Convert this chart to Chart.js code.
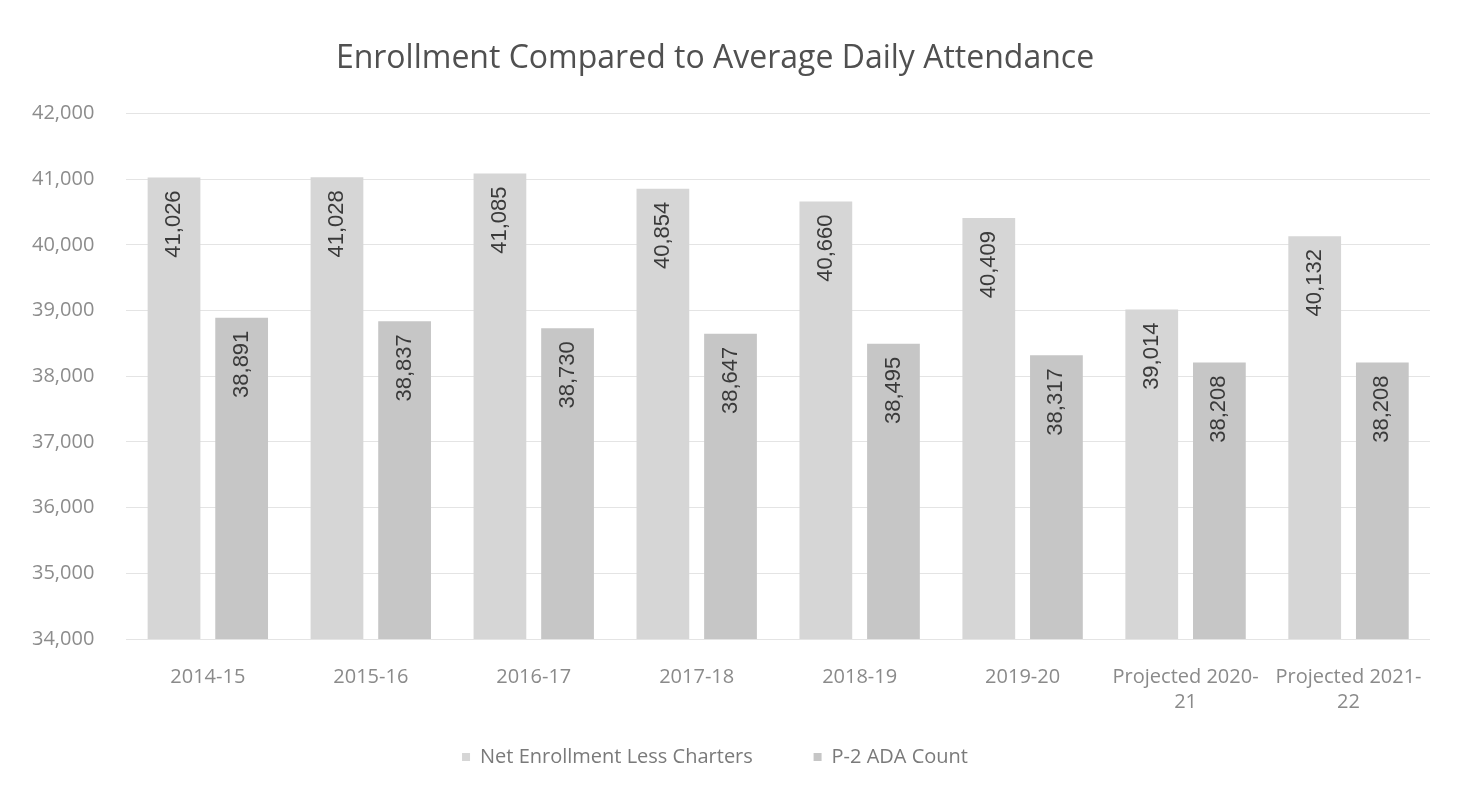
<!DOCTYPE html>
<html>
<head>
<meta charset="utf-8">
<script src="https://cdn.jsdelivr.net/npm/chart.js@4"></script>
<style>
  html, body { margin: 0; padding: 0; background: #fff; }
  .wrap { width: 1470px; height: 787px; position: relative; }
</style>
</head>
<body>
<div class="wrap"><canvas id="enrollChart"></canvas></div>
<script>
const categories = ["2014-15", "2015-16", "2016-17", "2017-18", "2018-19", "2019-20", ["Projected 2020-", "21"], ["Projected 2021-", "22"]];
const netEnrollment = [41026, 41028, 41085, 40854, 40660, 40409, 39014, 40132];
const adaCount = [38891, 38837, 38730, 38647, 38495, 38317, 38208, 38208];
const yTicks = [34000, 35000, 36000, 37000, 38000, 39000, 40000, 41000, 42000];

const fmt = v => v.toLocaleString("en-US");
const baseFont = "'Open Sans', sans-serif";

// rotated value labels inside the top of each bar
const barLabels = {
    id: "barLabels",
    afterDatasetsDraw(chart) {
        const ctx = chart.ctx;
        ctx.save();
        ctx.font = "22px 'Liberation Sans', sans-serif";
        ctx.fillStyle = "#3a3a3a";
        ctx.textAlign = "right";
        ctx.textBaseline = "middle";
        chart.data.datasets.forEach((ds, i) => {
            chart.getDatasetMeta(i).data.forEach((bar, j) => {
                ctx.save();
                ctx.translate(bar.x, bar.y + 13);
                ctx.rotate(-Math.PI / 2);
                ctx.fillText(fmt(ds.data[j]), 0, 0);
                ctx.restore();
            });
        });
        ctx.restore();
    }
};

new Chart("enrollChart", {
    type: "bar",
    data: {
        labels: categories,
        datasets: [{
            label: "Net Enrollment Less Charters",
            data: netEnrollment,
            backgroundColor: "#d6d6d6",
            categoryPercentage: 0.83,
            barPercentage: 0.78
        }, {
            label: "P-2 ADA Count",
            data: adaCount,
            backgroundColor: "#c6c6c6",
            categoryPercentage: 0.83,
            barPercentage: 0.78
        }]
    },
    options: {
        responsive: true,
        maintainAspectRatio: false,
        animation: false,
        layout: { padding: { left: 0, right: 40, top: 40, bottom: 10 } },
        plugins: {
            title: {
                display: true,
                text: "Enrollment Compared to Average Daily Attendance",
                color: "#505050",
                font: { family: baseFont, size: 32, weight: "normal" },
                padding: { top: 0, bottom: 35 }
            },
            legend: {
                position: "bottom",
                labels: {
                    boxWidth: 8,
                    boxHeight: 8,
                    color: "#7a7a7a",
                    padding: 14,
                    font: { family: baseFont, size: 20 },
                    // extra gap after the first entry, like the original
                    generateLabels: chart => Chart.defaults.plugins.legend.labels.generateLabels(chart)
                        .map((item, i) => Object.assign(item, { text: i === 0 ? item.text + "         " : item.text }))
                }
            },
            tooltip: { enabled: false }
        },
        scales: {
            x: {
                grid: { display: false },
                border: { display: false },
                ticks: {
                    color: "#8a8a8a",
                    maxRotation: 0,
                    autoSkip: false,
                    padding: 18,
                    font: { family: baseFont, size: 20, lineHeight: 1.25 }
                }
            },
            y: {
                min: yTicks[0],
                max: yTicks[yTicks.length - 1],
                grid: { color: "#e4e4e4", drawTicks: false },
                border: { display: false },
                afterBuildTicks: axis => { axis.ticks = yTicks.map(v => ({ value: v })); },
                ticks: {
                    color: "#8c8c8c",
                    padding: 32,
                    callback: v => fmt(v),
                    font: { family: baseFont, size: 20 }
                }
            }
        }
    },
    plugins: [barLabels]
});
</script>
</body>
</html>
